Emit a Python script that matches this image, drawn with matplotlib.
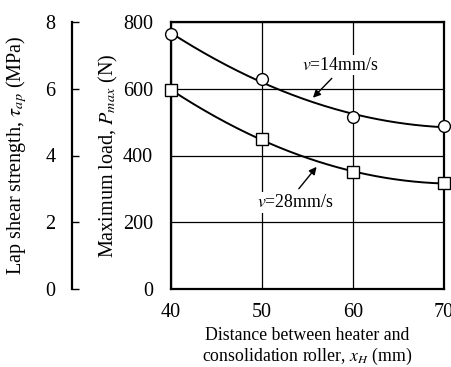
import numpy as np
import matplotlib
matplotlib.use("Agg")
import matplotlib.pyplot as plt

plt.rcParams['font.family'] = ['Liberation Serif', 'DejaVu Serif']
plt.rcParams['mathtext.fontset'] = 'stix'

x_dist = [40, 50, 60, 70]
pmax_14 = [764, 629, 515, 488]
pmax_28 = [596, 449, 350, 317]
x_ticks = [40, 50, 60, 70]
p_ticks = [0, 200, 400, 600, 800]
tau_ticks = [0, 2, 4, 6, 8]

W, H = 452, 367
fig = plt.figure(figsize=(W / 100, H / 100), dpi=100)

L, R, T, B = 171, 444, 22, 289
ax = fig.add_axes([L / W, 1 - B / H, (R - L) / W, (B - T) / H])
ax.set_xlim(40, 70)
ax.set_ylim(0, 800)
ax.set_xticks(x_ticks)
ax.set_yticks(p_ticks)
ax.tick_params(length=0, labelsize=14.5)
ax.tick_params(axis='x', pad=10)
ax.tick_params(axis='y', pad=13)
for s in ax.spines.values():
    s.set_linewidth(1.6)
ax.grid(True, color='black', linewidth=0.9)
ax.set_axisbelow(True)

xs = np.linspace(40, 70, 200)
for yv, mk in [(pmax_14, 'o'), (pmax_28, 's')]:
    c = np.polyfit(x_dist, yv, 2)
    ax.plot(xs, np.polyval(c, xs), color='black', linewidth=1.4, zorder=3, clip_on=False)
    ax.plot(x_dist, yv, mk, markersize=8.5, markerfacecolor='white',
            markeredgecolor='black', markeredgewidth=1.0, zorder=4, clip_on=False)

ax.annotate(r'$v$=14mm/s', xy=(55.6, 573), xytext=(58.6, 671),
            fontsize=12.8, ha='center', va='center',
            bbox=dict(boxstyle='square,pad=0.1', fc='white', ec='none'),
            arrowprops=dict(arrowstyle='-|>', color='black', lw=1.0,
                            mutation_scale=11, shrinkA=3, shrinkB=0,
                            relpos=(0.45, 0.0)))
ax.annotate(r'$v$=28mm/s', xy=(56.0, 366), xytext=(53.6, 260),
            fontsize=12.8, ha='center', va='center',
            bbox=dict(boxstyle='square,pad=0.1', fc='white', ec='none'),
            arrowprops=dict(arrowstyle='-|>', color='black', lw=1.0,
                            mutation_scale=11, shrinkA=3, shrinkB=0,
                            relpos=(0.5, 1.0)))

ax.set_ylabel(r'Maximum load, $P_{max}$ (N)', fontsize=14.5, labelpad=2)
ax.set_xlabel('Distance between heater and\nconsolidation roller, $x_H$ (mm)',
              fontsize=12.8, labelpad=4, linespacing=1.1)

# secondary left axis (tau)
LX = 72
ax2 = fig.add_axes([LX / W, 1 - B / H, 0.001, (B - T) / H])
ax2.set_ylim(0, 8)
ax2.set_yticks(tau_ticks)
ax2.set_xticks([])
for k in ['top', 'right', 'bottom']:
    ax2.spines[k].set_visible(False)
ax2.spines['left'].set_linewidth(1.6)
ax2.patch.set_visible(False)
ax2.tick_params(axis='y', direction='in', length=5, width=1.0, labelsize=14.5, pad=12)
ax2.set_ylabel(r'Lap shear strength, $\tau_{ap}$ (MPa)', fontsize=14.5, labelpad=12)

fig.savefig('out.png', dpi=100)
